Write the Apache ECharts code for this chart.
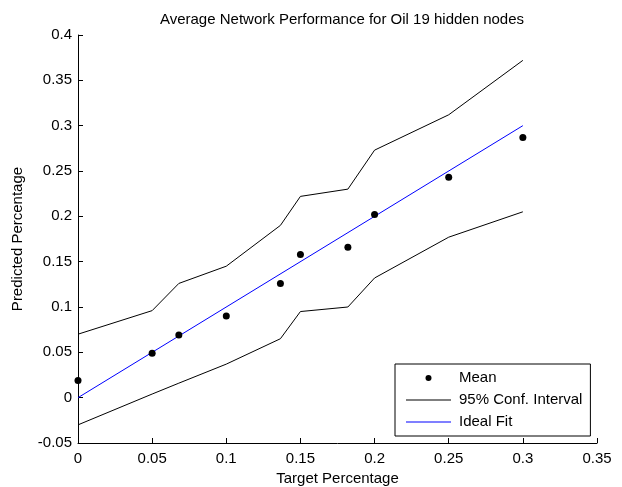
<!DOCTYPE html>
<html>
<head>
<meta charset="utf-8">
<title>Average Network Performance</title>
<script src="https://cdn.jsdelivr.net/npm/echarts@6/dist/echarts.min.js"></script>
<style>
    html, body { margin: 0; padding: 0; background: #fff; }
    #chart { width: 622px; height: 487px; }
</style>
</head>
<body>
<div id="chart"></div>
<script>
// Target percentages (x) and the values
const targets = [0, 0.05, 0.068, 0.1, 0.1365, 0.15, 0.182, 0.2, 0.25, 0.3];
const meanValues = [0.019, 0.049, 0.069, 0.090, 0.126, 0.158, 0.166, 0.202, 0.243, 0.287];
const upperCI = [0.070, 0.096, 0.126, 0.145, 0.190, 0.222, 0.230, 0.273, 0.312, 0.372];
const lowerCI = [-0.030, 0.004, 0.016, 0.037, 0.065, 0.095, 0.100, 0.132, 0.177, 0.205];
const idealX = [0, 0.3];
const idealY = [0, 0.3];

const font = 'Liberation Sans, Arial, sans-serif';
const lineIcon = 'path://M0 0H45V1H0Z'; // thin line for legend entries

const chart = echarts.init(document.getElementById('chart'));

// pair x with y for value axes
const pairs = (xs, ys) => xs.map((x, i) => [x, ys[i]]);

const axisCommon = {
    axisLine: { show: true, onZero: false, lineStyle: { color: '#000', width: 1 } },
    axisTick: { show: true, inside: true, length: 5, lineStyle: { color: '#000' } },
    splitLine: { show: false },
    nameTextStyle: { color: '#000', fontSize: 15, fontFamily: font },
    nameLocation: 'middle'
};

chart.setOption({
    animation: false,
    backgroundColor: '#fff',
    title: {
        text: 'Average Network Performance for Oil 19 hidden nodes',
        left: 337,
        textAlign: 'center',
        top: 7,
        textStyle: { color: '#000', fontSize: 15, fontWeight: 'normal', fontFamily: font }
    },
    grid: { left: 78, right: 25, top: 35, bottom: 44, outerBoundsMode: 'none' },
    xAxis: Object.assign({}, axisCommon, {
        type: 'value',
        min: 0,
        max: 0.35,
        interval: 0.05,
        axisLabel: { color: '#000', fontSize: 15, fontFamily: font, margin: 8 },
        name: 'Target Percentage',
        nameGap: 27
    }),
    yAxis: Object.assign({}, axisCommon, {
        type: 'value',
        min: -0.05,
        max: 0.4,
        interval: 0.05,
        axisLabel: { color: '#000', fontSize: 15, fontFamily: font, margin: 6 },
        name: 'Predicted Percentage',
        nameGap: 53
    }),
    legend: {
        orient: 'vertical',
        left: 395,
        top: 364,
        padding: [6, 8, 6, 11],
        itemWidth: 45,
        itemHeight: 6,
        itemGap: 6,
        borderColor: '#000',
        borderWidth: 1,
        backgroundColor: '#fff',
        textStyle: { color: '#000', fontSize: 15, fontFamily: font, lineHeight: 16, padding: [0, 0, 0, 3] },
        data: [
            { name: 'Mean', icon: 'circle' },
            { name: '95% Conf. Interval', icon: lineIcon },
            { name: 'Ideal Fit', icon: lineIcon }
        ]
    },
    series: [
        {
            name: 'Mean',
            type: 'scatter',
            symbol: 'circle',
            symbolSize: 7,
            itemStyle: { color: '#000', opacity: 1 },
            z: 5,
            data: pairs(targets, meanValues)
        },
        {
            name: '95% Conf. Interval',
            type: 'line',
            symbol: 'none',
            lineStyle: { color: '#000', width: 1 },
            itemStyle: { color: '#000' },
            data: pairs(targets, upperCI)
        },
        {
            name: '95% Conf. Interval',
            type: 'line',
            symbol: 'none',
            lineStyle: { color: '#000', width: 1 },
            itemStyle: { color: '#000' },
            data: pairs(targets, lowerCI)
        },
        {
            name: 'Ideal Fit',
            type: 'line',
            symbol: 'none',
            lineStyle: { color: '#0000ff', width: 1 },
            itemStyle: { color: '#0000ff' },
            data: pairs(idealX, idealY)
        }
    ]
});
</script>
</body>
</html>
